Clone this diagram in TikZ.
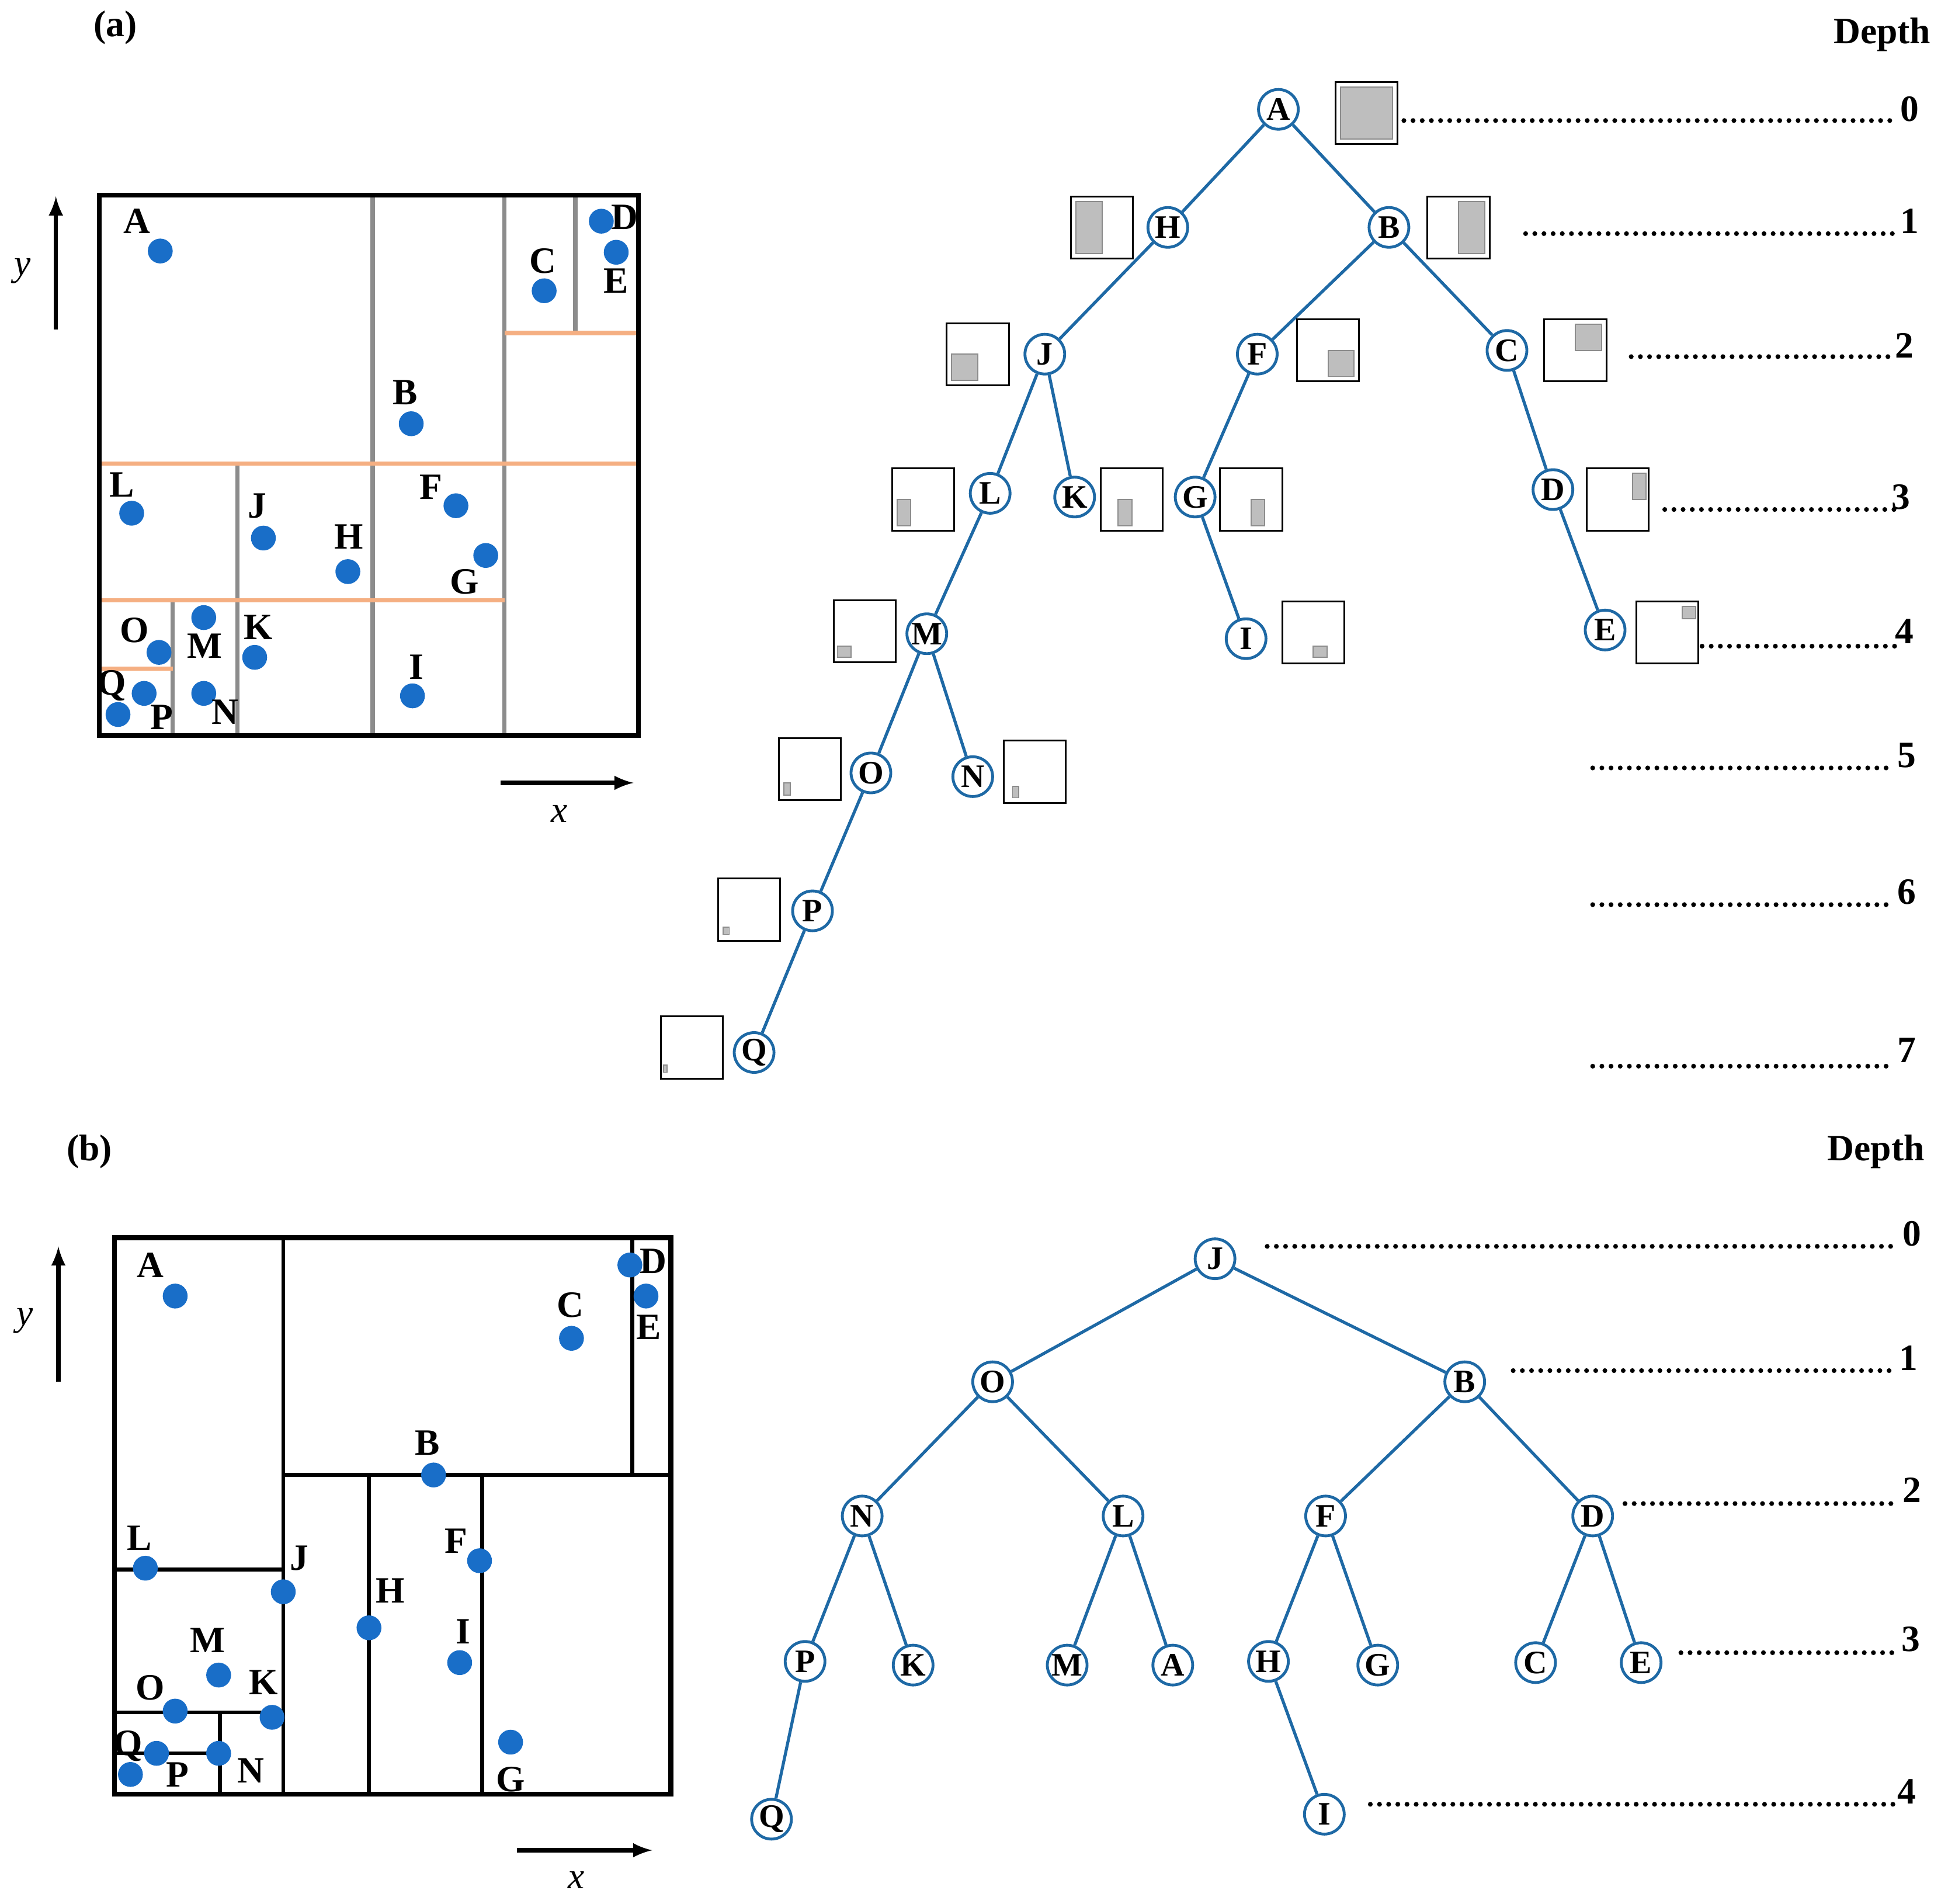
\documentclass[tikz,border=0pt]{standalone}
\usepackage{fontspec}
\setmainfont{Liberation Serif}
\definecolor{tblue}{RGB}{30,105,165}
\definecolor{dblue}{RGB}{25,110,200}
\definecolor{org}{RGB}{245,175,130}
\definecolor{gr}{RGB}{140,140,140}
\definecolor{gfill}{RGB}{190,190,190}
\begin{document}
\begin{tikzpicture}[x=0.02cm,y=-0.02cm,
  tn/.style={circle,draw=tblue,line width=1.3pt,fill=white,minimum size=0.64cm,inner sep=0pt,font=\fontsize{15}{15}\selectfont\bfseries},
  te/.style={tblue,line width=1.4pt},
  dot/.style={circle,fill=dblue,minimum size=0.4cm,inner sep=0pt},
  lab/.style={font=\fontsize{17}{17}\selectfont\bfseries,inner sep=0pt},
  frame/.style={line width=2.2pt},
  gl/.style={gr,line width=2pt},
  ol/.style={org,line width=2pt},
  bl/.style={black,line width=1.8pt},
  sb/.style={draw=black,line width=0.8pt},
  gf/.style={fill=gfill,draw=gr,line width=0.5pt},
  lead/.style={line width=2.2pt,line cap=round,dash pattern=on 0pt off 4.2pt},
  ax/.style={-latex,line width=2pt}]
\useasboundingbox (0,0) rectangle (1568,1532);
% ---------------- (a)
\node[lab] (la) at (93,22) {(a)};
\draw[gl] (300,157)--(300,592) (406,157)--(406,592) (463,157)--(463,268)
  (191,373)--(191,592) (139,483)--(139,592);
\draw[ol] (406,268)--(514,268) (80,373)--(514,373) (80,483)--(406,483) (80,538)--(139,538);
\draw[frame] (80,157) rectangle (514,592);
\foreach \n/\x/\y in {A/129/202,D/484/178,E/496/203,C/438/234,B/331/341,L/106/413,J/212/433,H/280/460,F/367/407,G/391/447,O/128/525,M/164/497,K/205/529,I/332/560,Q/95/575,P/116/558,N/164/558}
  \node[dot] (pa\n) at (\x,\y) {};
\foreach \n/\x/\y in {A/110/178,D/503/175,E/496/226,C/437/210,B/326/316,L/98/390,J/207/407,H/281/432,F/347/392,G/374/468,O/108/507,M/165/520,K/208/505,I/335/537,Q/90/552,P/130/577,N/181/573}
  \node[lab] (ta\n) at (\x,\y) {\n};
\coordinate (ya0) at (45,265); \coordinate (ya1) at (45,158);
\draw[ax] (ya0)--(ya1);
\node[font=\fontsize{17}{17}\selectfont\itshape] (yla) at (18,218) {y};
\coordinate (xa0) at (403,630); \coordinate (xa1) at (510,630);
\draw[ax] (xa0)--(xa1);
\node[font=\fontsize{17}{17}\selectfont\itshape] (xla) at (450,655) {x};
% tree a
\foreach \n/\x/\y in {A/1029/88,H/940/183,B/1118/183,J/841/285,F/1012/285,C/1213/282,L/797/397,K/865/400,G/962/400,D/1250/394,M/746/510,I/1003/514,E/1292/507,O/701/622,N/783/625,P/654/733,Q/607/847}
  \node[tn] (a\n) at (\x,\y) {\n};
\begin{scope}[on background layer/.style={}]
\foreach \a/\b in {A/H,A/B,H/J,B/F,B/C,J/L,J/K,F/G,C/D,L/M,G/I,D/E,M/O,M/N,O/P,P/Q}
  \draw[te] (a\a)--(a\b);
\end{scope}
% small boxes
\foreach \x/\y/\gx/\gy/\gX/\gY in {
 1075/66/1079/70/1121/112,
 862/158/866/162/887/204,
 1149/158/1174/162/1195/204,
 762/260/766/285/787/306,
 1044/257/1069/282/1090/303,
 1243/257/1268/261/1289/282,
 718/377/722/402/733/423,
 886/377/900/402/911/423,
 982/377/1007/402/1018/423,
 1277/377/1314/381/1325/402,
 671/483/674/520/685/529,
 1032/484/1057/520/1068/529,
 1317/484/1354/488/1365/498,
 627/594/631/630/636/640,
 808/596/815/633/820/642,
 578/707/582/746/587/752,
 532/818/534/857/537/863}
{\draw[sb] (\x,\y) rectangle ++(50,50); \draw[gf] (\gx,\gy) rectangle (\gX,\gY);}
\node[lab] (da) at (1515,28) {Depth};
\foreach \i/\x/\y/\nx/\ny in {0/1130/97/1537/88,1/1228/188/1537/178,2/1313/287/1533/278,3/1340/410/1530/400,4/1370/520/1533/508,5/1282/618/1535/608,6/1282/728/1535/718,7/1282/858/1535/845}
{\coordinate (sa\i) at (\x,\y); \coordinate (ea\i) at (1525,\y);
 \draw[lead] (sa\i)--(ea\i); \node[lab] (na\i) at (\nx,\ny) {\i};}
% ---------------- (b)
\node[lab] (lb) at (72,927) {(b)};
\draw[bl] (228,996)--(228,1444) (228,1187)--(540,1187) (509,996)--(509,1187)
  (92,1263)--(228,1263) (297,1187)--(297,1444) (388,1187)--(388,1444)
  (92,1378)--(228,1378) (177,1378)--(177,1444) (92,1411)--(177,1411);
\draw[frame] (92,996) rectangle (540,1444);
\foreach \n/\x/\y in {A/141/1043,D/507/1018,E/520/1043,C/460/1077,B/349/1187,L/117/1262,J/228/1281,H/297/1310,F/386/1256,I/370/1338,M/176/1348,O/141/1377,K/219/1382,G/411/1402,Q/105/1428,P/126/1411,N/176/1411}
  \node[dot] (pb\n) at (\x,\y) {};
\foreach \n/\x/\y in {A/121/1018,D/526/1015,E/522/1068,C/459/1050,B/344/1161,L/112/1238,J/241/1254,H/314/1280,F/367/1240,I/373/1313,M/167/1320,O/121/1358,K/212/1354,G/411/1432,Q/103/1405,P/143/1428,N/202/1425}
  \node[lab] (tb\n) at (\x,\y) {\n};
\coordinate (yb0) at (47,1112); \coordinate (yb1) at (47,1003);
\draw[ax] (yb0)--(yb1);
\node[font=\fontsize{17}{17}\selectfont\itshape] (ylb) at (20,1063) {y};
\coordinate (xb0) at (416,1489); \coordinate (xb1) at (525,1489);
\draw[ax] (xb0)--(xb1);
\node[font=\fontsize{17}{17}\selectfont\itshape] (xlb) at (464,1513) {x};
\foreach \n/\x/\y in {J/978/1013,O/799/1112,B/1179/1112,N/694/1220,L/904/1220,F/1067/1220,D/1282/1220,P/648/1337,K/735/1340,M/859/1340,A/944/1340,H/1021/1337,G/1109/1340,C/1236/1338,E/1321/1338,Q/621/1464,I/1066/1460}
  \node[tn] (b\n) at (\x,\y) {\n};
\foreach \a/\b in {J/O,J/B,O/N,O/L,B/F,B/D,N/P,N/K,L/M,L/A,F/H,F/G,D/C,D/E,P/Q,H/I}
  \draw[te] (b\a)--(b\b);
\node[lab] (db) at (1510,927) {Depth};
\foreach \i/\x/\y/\nx/\ny in {0/1020/1003/1539/993,1/1218/1103/1536/1093,2/1308/1210/1539/1199,3/1353/1330/1538/1319,4/1103/1452/1535/1442}
{\coordinate (sb\i) at (\x,\y); \coordinate (eb\i) at (1527,\y);
 \draw[lead] (sb\i)--(eb\i); \node[lab] (nb\i) at (\nx,\ny) {\i};}
\end{tikzpicture}
\end{document}
